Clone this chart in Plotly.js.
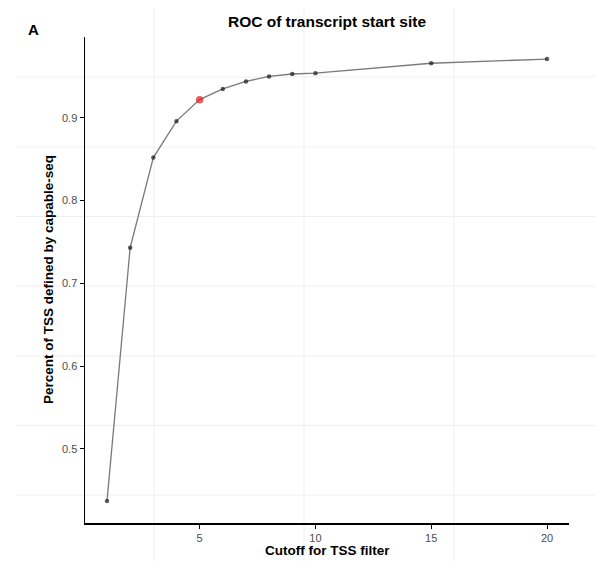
<!DOCTYPE html>
<html>
<head>
<meta charset="utf-8">
<script src="https://cdn.plot.ly/plotly-3.0.1.min.js"></script>
<style>html,body{margin:0;padding:0;background:#fff}#chart{width:595px;height:561px}</style>
</head>
<body>
<div id="chart"></div>
<script>
// Data
const cutoffs = [1, 2, 3, 4, 5, 6, 7, 8, 9, 10, 15, 20];
const percentTSS = [0.437, 0.743, 0.852, 0.896, 0.922, 0.935, 0.944, 0.950, 0.953, 0.954, 0.966, 0.971];
const highlightCutoff = 5;
const xTickVals = [5, 10, 15, 20];
const yTickVals = [0.5, 0.6, 0.7, 0.8, 0.9];

const W = 595, H = 561;
function px(x) { return x / W; }
function py(y) { return 1 - y / H; }

// ggplot-style 5% expansion of the data range
function expand(arr) {
  const mn = Math.min(...arr), mx = Math.max(...arr), d = (mx - mn) * 0.05;
  return [mn - d, mx + d];
}

const lineTrace = {
  x: cutoffs, y: percentTSS, type: 'scatter', mode: 'lines',
  line: {color: '#7a7a7a', width: 1.3}, hoverinfo: 'skip', showlegend: false
};
const ptTrace = {
  x: cutoffs, y: percentTSS, type: 'scatter', mode: 'markers',
  marker: {
    color: cutoffs.map(c => c === highlightCutoff ? '#E41A1C' : '#1a1a1a'),
    size: cutoffs.map(c => c === highlightCutoff ? 7.5 : 4.5),
    line: {width: 0}
  },
  showlegend: false
};

// faint full-figure background grid
const shapes = [];
[154, 304, 454].forEach(x => shapes.push({type: 'line', xref: 'paper', yref: 'paper',
  x0: px(x), x1: px(x), y0: 0, y1: py(8), line: {color: '#efefef', width: 1}, layer: 'below'}));
[77, 147, 216.5, 286, 356, 425.5, 495].forEach(y => shapes.push({type: 'line', xref: 'paper', yref: 'paper',
  x0: px(16), x1: 1, y0: py(y), y1: py(y), line: {color: '#efefef', width: 1}, layer: 'below'}));

const tickFont = {family: 'Liberation Sans, Arial, sans-serif', size: 11, color: '#4d4d4d'};
const boldFont = (s) => ({family: 'Liberation Sans, Arial, sans-serif', size: s, color: '#000', weight: 'bold'});

const layout = {
  width: W, height: H,
  margin: {l: 0, r: 0, t: 0, b: 0},
  paper_bgcolor: '#fff', plot_bgcolor: 'rgba(0,0,0,0)',
  title: {text: '<b>ROC of transcript start site</b>', font: boldFont(15.5),
    x: px(327), xref: 'paper', xanchor: 'center', y: py(22), yref: 'paper', yanchor: 'middle'},
  xaxis: {
    domain: [px(85), px(569)], range: expand(cutoffs),
    tickvals: xTickVals, ticks: 'outside', ticklen: 4, tickwidth: 1, tickcolor: '#000',
    showline: true, linecolor: '#000', linewidth: 1.5, showgrid: false, zeroline: false,
    tickfont: tickFont, anchor: 'y', automargin: false
  },
  yaxis: {
    domain: [py(523), py(37)], range: expand(percentTSS),
    tickvals: yTickVals, ticktext: yTickVals.map(v => v.toFixed(1)),
    ticks: 'outside', ticklen: 4, tickwidth: 1, tickcolor: '#000',
    showline: true, linecolor: '#000', linewidth: 1.5, showgrid: false, zeroline: false,
    tickfont: tickFont, anchor: 'x', automargin: false
  },
  shapes: shapes,
  annotations: [
    {text: '<b>A</b>', xref: 'paper', yref: 'paper', x: px(33), y: py(29),
      xanchor: 'center', yanchor: 'middle', showarrow: false, font: boldFont(15)},
    {text: '<b>Cutoff for TSS filter</b>', xref: 'paper', yref: 'paper', x: px(327), y: py(550),
      xanchor: 'center', yanchor: 'middle', showarrow: false, font: boldFont(13.5)},
    {text: '<b>Percent of TSS defined by capable-seq</b>', xref: 'paper', yref: 'paper', x: px(49), y: py(280),
      xanchor: 'center', yanchor: 'middle', showarrow: false, textangle: -90, font: boldFont(13.5)}
  ]
};

Plotly.newPlot('chart', [lineTrace, ptTrace], layout, {displayModeBar: false, staticPlot: true});
</script>
</body>
</html>
